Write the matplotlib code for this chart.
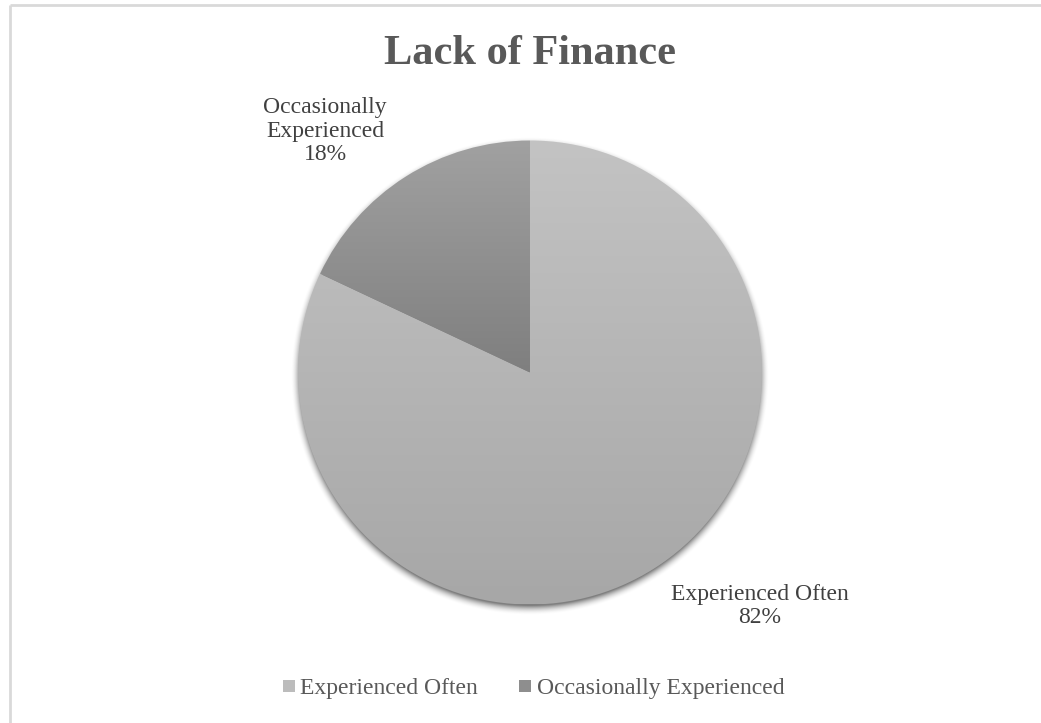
import numpy as np
import matplotlib
matplotlib.use("Agg")
import matplotlib.pyplot as plt
from matplotlib.lines import Line2D
from matplotlib.colors import LinearSegmentedColormap

plt.rcParams['font.family'] = ['Liberation Serif', 'DejaVu Serif']

labels = ['Experienced Often', 'Occasionally Experienced']
values = [82, 18]
# top / bottom shade of each slice's vertical gradient
shades = [('#c3c3c3', '#a7a7a7'), ('#a1a1a1', '#7f7f7f')]
flat = ['#bcbcbc', '#8e8e8e']

W, H = 1041, 723
fig = plt.figure(figsize=(W / 100, H / 100), dpi=100)
ax = fig.add_axes([0, 0, 1, 1])

# thin frame on top and left
ax.plot([10, W], [H - 5, H - 5], color='#d9d9d9', lw=2, solid_capstyle='butt')
ax.plot([10, 10], [H - 5, 0], color='#d9d9d9', lw=2, solid_capstyle='butt')

cx, cy, r = 530, H - 372.5, 232

# soft drop shadow under the pie
gx = np.arange(cx - r - 20, cx + r + 20)
gy = np.arange(cy - r - 25, cy + r + 20)
X, Y = np.meshgrid(gx, gy)
d = np.hypot(X - cx, Y - (cy - 4)) - (r - 2)
alpha = 0.5 * np.clip(1 - d / 10.0, 0, 1) ** 2
alpha[d < 0] = 0.5
shadow = np.zeros(X.shape + (4,))
shadow[..., 3] = alpha
ax.imshow(shadow, extent=[gx[0], gx[-1], gy[0], gy[-1]], origin='lower',
          interpolation='bilinear', zorder=1)

wedges, _ = ax.pie(values, startangle=90, counterclock=False,
                   center=(cx, cy), radius=r, frame=True,
                   wedgeprops=dict(linewidth=0))

# fill each slice with a top-to-bottom gradient clipped to the wedge
for w, (top, bot) in zip(wedges, shades):
    w.set_facecolor('none')
    w.set_zorder(3)
    bb = w.get_path().get_extents()
    cmap = LinearSegmentedColormap.from_list('g', [bot, top])
    grad = np.linspace(0, 1, 256).reshape(-1, 1)
    im = ax.imshow(grad, cmap=cmap, origin='lower', aspect='auto',
                   extent=[bb.x0, bb.x1, bb.y0, bb.y1], zorder=2)
    im.set_clip_path(w)

ax.set_xlim(0, W)
ax.set_ylim(0, H)
ax.set_aspect('auto')
ax.axis('off')

txt = '#404040'
ax.text(760, H - 606, f'{labels[0]}\n{values[0]}%', ha='center', va='center',
        fontsize=17, color=txt, linespacing=1.17)
ax.text(325, H - 131, 'Occasionally\nExperienced\n' + f'{values[1]}%',
        ha='center', va='center', fontsize=17, color=txt, linespacing=1.17)

ax.text(530, H - 50, 'Lack of Finance', ha='center', va='center_baseline',
        fontsize=30.5, fontweight='bold', color='#595959')

handles = [Line2D([], [], marker='s', linestyle='none', markersize=8.5,
                  markerfacecolor=c, markeredgewidth=0) for c in flat]
fig.legend(handles, labels, loc='center', bbox_to_anchor=(532 / W, 35 / H),
           ncol=2, frameon=False, fontsize=17, handletextpad=0.1,
           columnspacing=1.6, labelcolor='#595959', handlelength=0.8)

fig.savefig('out.png', dpi=100, facecolor='white')
